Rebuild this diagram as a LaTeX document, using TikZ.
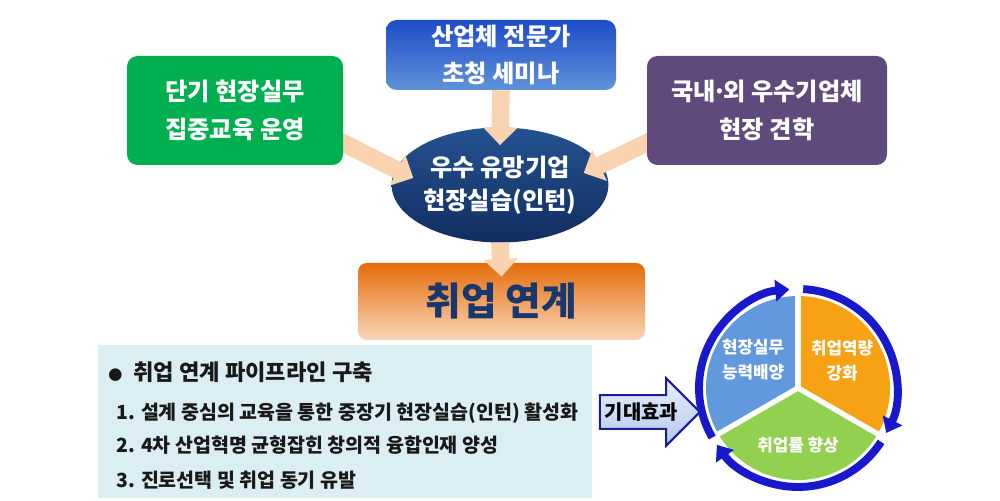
\documentclass[tikz,border=0pt]{standalone}
\usepackage{fontspec}
\setmainfont{Noto Sans CJK KR}
\usepackage{xcolor}
\definecolor{boxgreen}{RGB}{0,176,80}
\definecolor{boxpurple}{RGB}{96,74,123}
\definecolor{semtop}{RGB}{30,76,200}
\definecolor{sembot}{RGB}{96,146,216}
\definecolor{elltop}{RGB}{36,82,145}
\definecolor{ellbot}{RGB}{18,46,96}
\definecolor{linktop}{RGB}{228,108,10}
\definecolor{linkmid}{RGB}{244,166,104}
\definecolor{linkbot}{RGB}{251,214,184}
\definecolor{linktext}{RGB}{23,55,110}
\definecolor{peach}{RGB}{249,210,175}
\definecolor{panelblue}{RGB}{218,238,243}
\definecolor{ringblue}{RGB}{24,24,204}
\definecolor{pieblue}{RGB}{98,152,220}
\definecolor{pieorange}{RGB}{247,162,20}
\definecolor{piegreen}{RGB}{146,208,80}
\definecolor{effecttop}{RGB}{232,240,250}
\definecolor{effectbot}{RGB}{176,200,236}
\definecolor{effectline}{RGB}{28,28,150}
\usetikzlibrary{arrows.meta, shapes.geometric, shapes.arrows, positioning, backgrounds}
\pgfdeclarelayer{front}
\pgfsetlayers{background,main,front}

\begin{document}
\begin{tikzpicture}[
      topbox/.style={rounded corners=6pt, text=white, align=center, inner sep=0pt,
                     font=\bfseries\fontsize{13.8}{21.5}\selectfont},
      flow/.style={draw=peach, line width=10pt, -{Triangle[width=19pt,length=10pt]}},
      ring/.style={draw=ringblue, line width=4.5pt, -{Triangle[width=12pt,length=8pt]}},
      pietext/.style={text=white, align=center, font=\bfseries\fontsize{9.6}{14}\selectfont},
      listline/.style={anchor=west, inner sep=0pt, text=black!90,
                       font=\bfseries\fontsize{11.1}{13}\selectfont}]
      \useasboundingbox (0,0) rectangle (20,10.02);

      \begin{pgfonlayer}{front}
      \node[topbox, fill=boxgreen, minimum width=4.32cm, minimum height=2.18cm]
            (training) at (4.70,7.81) {단기 현장실무\\집중교육 운영};
      \node[topbox, top color=semtop, bottom color=sembot,
            minimum width=4.6cm, minimum height=1.4cm]
            (seminar) at (10.02,8.92) {산업체 전문가\\초청 세미나};
      \node[topbox, fill=boxpurple, minimum width=4.8cm, minimum height=2.18cm]
            (visit) at (15.34,7.81) {국내\hspace{-0.15em}·\hspace{-0.15em}외 우수기업체\\현장 견학};
      \end{pgfonlayer}

      \node[ellipse, top color=elltop, bottom color=ellbot, text=white, align=center,
            minimum width=4.3cm, minimum height=2.3cm, inner sep=0pt,
            font=\bfseries\fontsize{13.8}{19}\selectfont]
            (intern) at (10.0,6.32) {우수 유망기업\\현장실습(인턴)};

      \node[rounded corners=5pt, top color=linktop, middle color=linkmid, bottom color=linkbot,
            text=linktext, minimum width=5.74cm, minimum height=1.54cm,
            font=\bfseries\fontsize{22}{26}\selectfont]
            (linkage) at (10.03,3.99) {취업 연계};

      \draw[flow] ([xshift=-0.1cm,yshift=-0.6cm]training.east) -- ([xshift=0.44cm,yshift=0.14cm]intern.west);
      \draw[flow] (seminar.south) -- ([yshift=-0.36cm]intern.north);
      \draw[flow] ([xshift=0.1cm,yshift=-0.6cm]visit.west) -- ([xshift=-0.5cm,yshift=0.24cm]intern.east);
      \draw[flow] (intern.south) -- ([yshift=-0.28cm]linkage.north);

      \node[fill=panelblue, minimum width=9.88cm, minimum height=3.06cm, inner sep=0pt]
            (panel) at (6.90,1.59) {};
      \node[listline, font=\bfseries\fontsize{12.6}{15}\selectfont]
            (pipeline) at (2.16,2.58) {{\fontsize{8}{8}\selectfont ●}\hspace{0.5em}취업 연계 파이프라인 구축};
      \node[listline] (item1) at (2.32,1.76) {1. 설계 중심의 교육을 통한 중장기 현장실습(인턴) 활성화};
      \node[listline] (item2) at (2.32,1.12) {2. 4차 산업혁명 균형잡힌 창의적 융합인재 양성};
      \node[listline] (item3) at (2.32,0.42) {3. 진로선택 및 취업 동기 유발};

      \node[single arrow, draw=effectline, line width=1.2pt, top color=effecttop,
            bottom color=effectbot, minimum height=1.94cm, single arrow head extend=0.34cm,
            inner xsep=0.08cm, inner ysep=0.13cm, font=\bfseries\fontsize{11.3}{13}\selectfont]
            (effect) at (12.83,1.78) {기대효과};

      \coordinate (hub) at (15.96,2.26);
      \fill[pieblue] (hub) -- ([shift={(90:1.84)}]hub) arc[start angle=90, end angle=210, radius=1.84] -- cycle;
      \fill[pieorange] (hub) -- ([shift={(-30:1.84)}]hub) arc[start angle=-30, end angle=90, radius=1.84] -- cycle;
      \fill[piegreen] (hub) -- ([shift={(210:1.84)}]hub) arc[start angle=210, end angle=330, radius=1.84] -- cycle;
      \foreach \a in {90,-30,210}
        \draw[white, line width=3pt] (hub) -- ([shift={(\a:1.9)}]hub);
      \draw[ring] ([shift={(210:1.98)}]hub) arc[start angle=210, end angle=95, radius=1.98];
      \draw[ring] ([shift={(87:1.98)}]hub) arc[start angle=87, end angle=-27, radius=1.98];
      \draw[ring] ([shift={(-33:1.98)}]hub) arc[start angle=-33, end angle=-145, radius=1.98];

      \node[pietext] (skill) at ([shift={(148:1.06)}]hub) {현장실무\\능력배양};
      \node[pietext] (ability) at ([shift={(32:1.04)}]hub) {취업역량\\강화};
      \node[pietext] (rate) at ([shift={(-90:1.14)}]hub) {취업률 향상};
    \end{tikzpicture}
\end{document}
